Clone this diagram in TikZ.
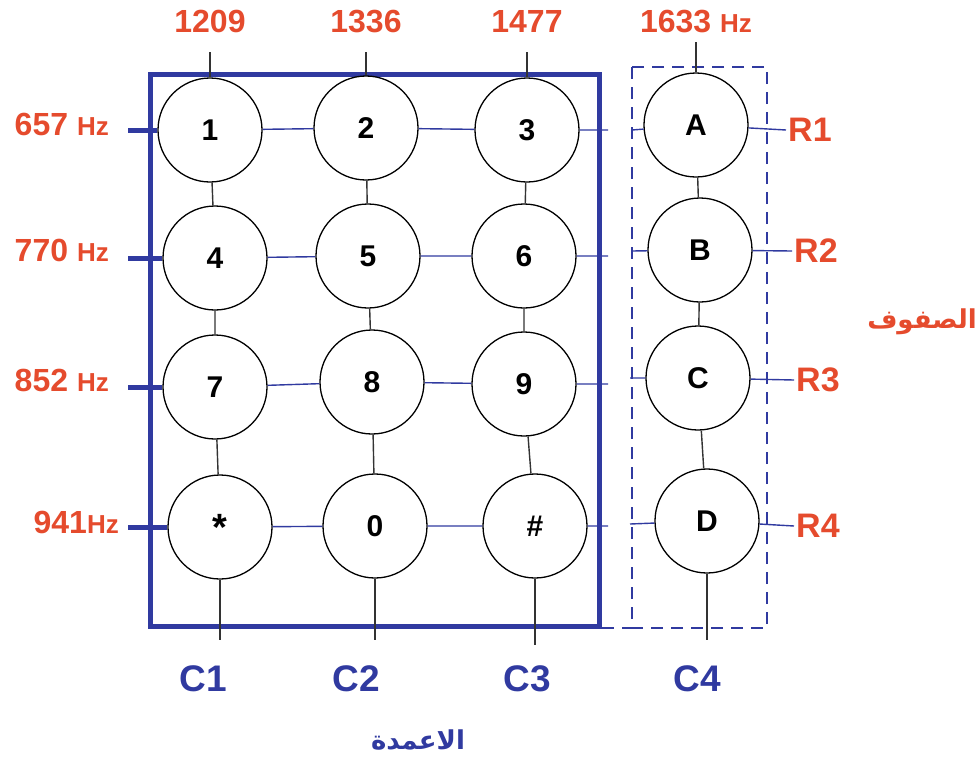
\documentclass[tikz,border=0pt]{standalone}
\usepackage{fontspec}
\setmainfont{Liberation Sans}
\newfontfamily\arabicfont[Script=Arabic]{DejaVu Sans}
\TeXXeTstate=1
\usetikzlibrary{positioning}

\definecolor{freqred}{RGB}{229,75,45}
\definecolor{padblue}{RGB}{48,58,160}
\newcommand\hzunit{\fontsize{26}{28}\selectfont Hz}

\begin{document}
\begin{tikzpicture}[x=1pt, y=-1pt,
    node distance=10pt,
    key/.style={draw, circle, fill=white, line width=1.3pt, minimum size=104pt, inner sep=0pt,
                font=\fontsize{30}{32}\selectfont\bfseries},
    freq/.style={text=freqred, inner sep=1pt, font=\fontsize{32}{34}\selectfont\bfseries},
    rowlbl/.style={text=freqred, inner sep=2pt, font=\fontsize{34}{36}\selectfont\bfseries},
    collbl/.style={text=padblue, inner sep=1pt, font=\fontsize{37}{39}\selectfont\bfseries},
    colwire/.style={line width=1.4pt, black!80},
    rowwire/.style={line width=1.4pt, padblue},
    stub/.style={line width=5pt, padblue}
]
\useasboundingbox (0,0) rectangle (979,763);

% frames
\draw[padblue, line width=5pt] (150,74) rectangle (599,626);
\draw[padblue, line width=1.6pt, dash pattern=on 12pt off 8pt] (632,67) rectangle (767,628);
\draw[padblue, line width=1.6pt, dash pattern=on 12pt off 8pt] (602,628) -- (632,628);

% keys
\node[key] (k1) at (210,130) {1};
\node[key] (k2) at (366,128) {2};
\node[key] (k3) at (527,130) {3};
\node[key] (kA) at (696,125) {A};
\node[key] (k4) at (215,258) {4};
\node[key] (k5) at (368,256) {5};
\node[key] (k6) at (524,256) {6};
\node[key] (kB) at (700,250) {B};
\node[key] (k7) at (215,387) {7};
\node[key] (k8) at (372,382) {8};
\node[key] (k9) at (524,384) {9};
\node[key] (kC) at (698,378) {C};
\node[key] (ks) at (220,527) {\raisebox{-8pt}{\fontsize{38}{40}\selectfont *}};
\node[key] (k0) at (375,526) {0};
\node[key] (kh) at (535,526) {\#};
\node[key] (kD) at (707,521) {D};

% column wires
\draw[colwire] (k1) -- (k4) (k4) -- (k7) (k7) -- (ks);
\draw[colwire] (k2) -- (k5) (k5) -- (k8) (k8) -- (k0);
\draw[colwire] (k3) -- (k6) (k6) -- (k9) (k9) -- (kh);
\draw[colwire] (kA) -- (kB) (kB) -- (kC) (kC) -- (kD);

% top ends and frequencies
\coordinate (t1) at (k1.north |- 0,52);
\coordinate (t2) at (k2.north |- 0,52);
\coordinate (t3) at (k3.north |- 0,52);
\coordinate (t4) at (kA.north |- 0,42);
\draw[colwire] (k1.north) -- (t1);
\draw[colwire] (k2.north) -- (t2);
\draw[colwire] (k3.north) -- (t3);
\draw[colwire] (kA.north) -- (t4);
\node[freq, above=18pt of t1] (f1209) {1209};
\node[freq, above=18pt of t2] (f1336) {1336};
\node[freq, above=18pt of t3] (f1477) {1477};
\node[freq, above=8pt of t4] (f1633) {1633 \hzunit};

% bottom ends and column names
\coordinate (b1) at (ks.south |- 0,640);
\coordinate (b2) at (k0.south |- 0,640);
\coordinate (b3) at (kh.south |- 0,645);
\coordinate (b4) at (kD.south |- 0,640);
\draw[colwire] (ks.south) -- (b1);
\draw[colwire] (k0.south) -- (b2);
\draw[colwire] (kh.south) -- (b3);
\draw[colwire] (kD.south) -- (b4);
\node[collbl] (c1) at (203,679) {C1};
\node[collbl] (c2) at (356,679) {C2};
\node[collbl] (c3) at (527,679) {C3};
\node[collbl] (c4) at (697,679) {C4};
\node[text=padblue, font=\arabicfont\fontsize{26}{28}\selectfont\bfseries] (cols) at (418,740)
    {\beginR الاعمدة\endR};

% row wires
\coordinate (g1) at (608,130);
\coordinate (g2) at (608,256);
\coordinate (g3) at (608,384);
\coordinate (g4) at (608,526);
\coordinate (h1) at (632,130);
\coordinate (h2) at (632,251);
\coordinate (h3) at (630,378);
\coordinate (h4) at (630,524);
\draw[rowwire] (k1) -- (k2) (k2) -- (k3) (k3) -- (g1) (h1) -- (kA);
\draw[rowwire] (k4) -- (k5) (k5) -- (k6) (k6) -- (g2) (h2) -- (kB);
\draw[rowwire] (k7) -- (k8) (k8) -- (k9) (k9) -- (g3) (h3) -- (kC);
\draw[rowwire] (ks) -- (k0) (k0) -- (kh) (kh) -- (g4) (h4) -- (kD);

% row names
\node[rowlbl, anchor=west] (r1) at (786,130) {R1};
\node[rowlbl, anchor=west] (r2) at (792,251) {R2};
\node[rowlbl, anchor=west] (r3) at (794,380) {R3};
\node[rowlbl, anchor=west] (r4) at (794,526) {R4};
\draw[rowwire] (kA) -- (r1.west);
\draw[rowwire] (kB) -- (r2.west);
\draw[rowwire] (kC) -- (r3.west);
\draw[rowwire] (kD) -- (r4.west);
\node[text=freqred, inner sep=1pt, font=\arabicfont\fontsize{26}{28}\selectfont\bfseries] (rows) at (922,322)
    {\beginR الصفوف\endR};

% row frequencies
\coordinate (l1) at (128,130);
\coordinate (l2) at (128,258);
\coordinate (l3) at (128,387);
\coordinate (l4) at (128,527);
\draw[stub] (l1) -- (k1.west);
\draw[stub] (l2) -- (k4.west);
\draw[stub] (l3) -- (k7.west);
\draw[stub] (l4) -- (ks.west);
\node[freq, anchor=east] (f657) at (110,124) {657 \hzunit};
\node[freq, anchor=east] (f770) at (110,250) {770 \hzunit};
\node[freq, anchor=east] (f852) at (110,380) {852 \hzunit};
\node[freq, anchor=east] (f941) at (120,522) {941\hzunit};
\end{tikzpicture}
\end{document}
